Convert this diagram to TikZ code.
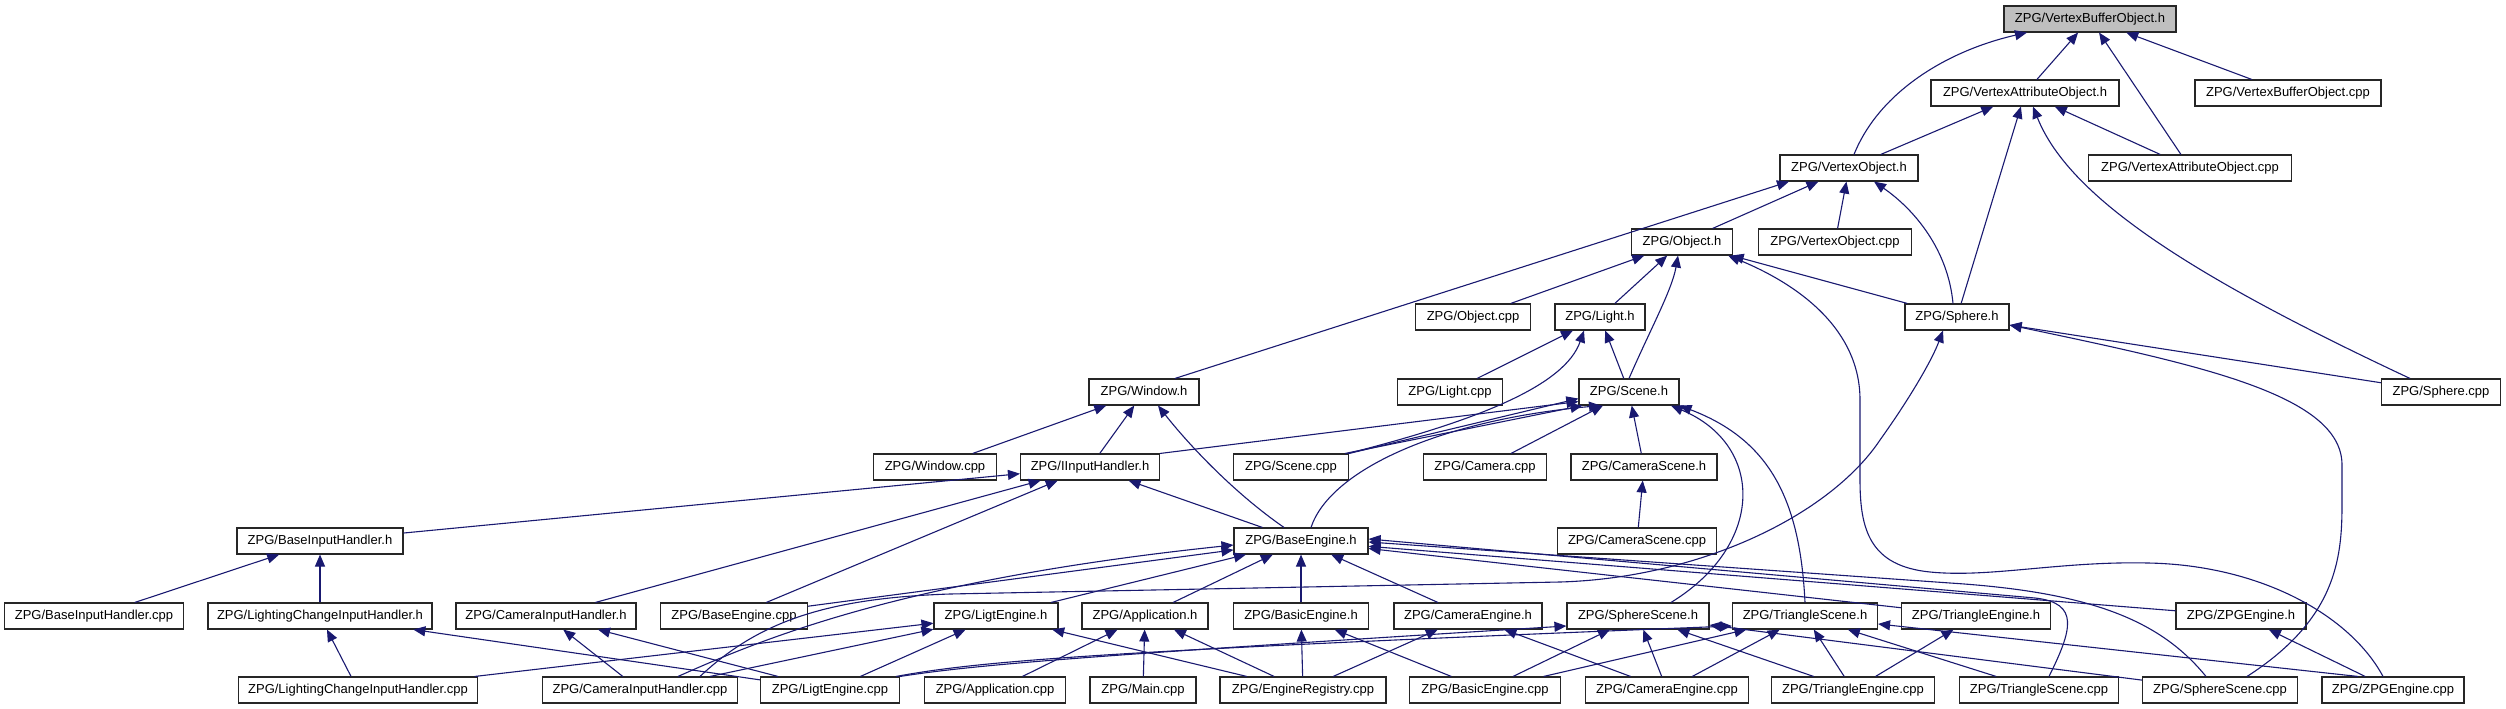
\documentclass[tikz,border=0pt]{standalone}
\usepackage{fontspec}
\setmainfont{Liberation Sans}
\usetikzlibrary{arrows.meta}
\definecolor{edgeCol}{HTML}{191970}
\definecolor{rootCol}{HTML}{BFBFBF}

\begin{document}
\begin{tikzpicture}[
    x=1pt, y=-1pt,
    >={Triangle[length=12pt,width=10pt]},
    font=\fontsize{13pt}{15pt}\selectfont,
    file/.style={draw=black!85, line width=1.1pt, fill=white, minimum height=26pt,
      inner sep=0pt, text height=9.5pt, text depth=2.5pt},
    root/.style={file, fill=rootCol},
    dep/.style={->, line width=1.1pt, color=edgeCol},
  ]
\useasboundingbox (0,0) rectangle (2506,709);

% Rank 0-3
\node[root, minimum width=172pt] (vboh) at (2090,19) {ZPG/VertexBufferObject.h};
\node[file, minimum width=188pt] (vaoh) at (2025,93) {ZPG/VertexAttributeObject.h};
\node[file, minimum width=186pt] (vbocpp) at (2288,93) {ZPG/VertexBufferObject.cpp};
\node[file, minimum width=138pt] (voh) at (1849,168) {ZPG/VertexObject.h};
\node[file, minimum width=203pt] (vaocpp) at (2190,168) {ZPG/VertexAttributeObject.cpp};
\node[file, minimum width=101pt] (objh) at (1682,242) {ZPG/Object.h};
\node[file, minimum width=153pt] (vocpp) at (1835,242) {ZPG/VertexObject.cpp};

% Rank 4-6
\node[file, minimum width=115pt] (objcpp) at (1473,317) {ZPG/Object.cpp};
\node[file, minimum width=90pt] (lighth) at (1600,317) {ZPG/Light.h};
\node[file, minimum width=104pt] (sphereh) at (1957,317) {ZPG/Sphere.h};
\node[file, minimum width=110pt] (windowh) at (1144,392) {ZPG/Window.h};
\node[file, minimum width=105pt] (lightcpp) at (1450,392) {ZPG/Light.cpp};
\node[file, minimum width=100pt] (sceneh) at (1629,392) {ZPG/Scene.h};
\node[file, minimum width=119pt] (spherecpp) at (2441,392) {ZPG/Sphere.cpp};
\node[file, minimum width=123pt] (windowcpp) at (935,467) {ZPG/Window.cpp};
\node[file, minimum width=139pt] (iinputh) at (1090,467) {ZPG/IInputHandler.h};
\node[file, minimum width=115pt] (scenecpp) at (1291,467) {ZPG/Scene.cpp};
\node[file, minimum width=123pt] (cameracpp) at (1485,467) {ZPG/Camera.cpp};
\node[file, minimum width=146pt] (camerasceneh) at (1644,467) {ZPG/CameraScene.h};

% Rank 7
\node[file, minimum width=166pt] (baseinputh) at (320,541) {ZPG/BaseInputHandler.h};
\node[file, minimum width=134pt] (baseengineh) at (1301,541) {ZPG/BaseEngine.h};
\node[file, minimum width=159pt] (camerascenecpp) at (1637,541) {ZPG/CameraScene.cpp};

% Rank 8
\node[file, minimum width=179pt] (baseinputcpp) at (94,616) {ZPG/BaseInputHandler.cpp};
\node[file, minimum width=224pt] (lcihh) at (320,616) {ZPG/LightingChangeInputHandler.h};
\node[file, minimum width=180pt] (cihh) at (546,616) {ZPG/CameraInputHandler.h};
\node[file, minimum width=147pt] (baseenginecpp) at (734,616) {ZPG/BaseEngine.cpp};
\node[file, minimum width=124pt] (ligtengineh) at (996,616) {ZPG/LigtEngine.h};
\node[file, minimum width=126pt] (applicationh) at (1145,616) {ZPG/Application.h};
\node[file, minimum width=135pt] (basicengineh) at (1301,616) {ZPG/BasicEngine.h};
\node[file, minimum width=148pt] (cameraengineh) at (1468,616) {ZPG/CameraEngine.h};
\node[file, minimum width=142pt] (spherescenesh) at (1638,616) {ZPG/SphereScene.h};
\node[file, minimum width=145pt] (trianglesceneh) at (1805,616) {ZPG/TriangleScene.h};
\node[file, minimum width=149pt] (triangleengineh) at (1976,616) {ZPG/TriangleEngine.h};
\node[file, minimum width=130pt] (zpgengineh) at (2241,616) {ZPG/ZPGEngine.h};

% Rank 9
\node[file, minimum width=239pt] (lcihcpp) at (358,690) {ZPG/LightingChangeInputHandler.cpp};
\node[file, minimum width=195pt] (cihcpp) at (640,690) {ZPG/CameraInputHandler.cpp};
\node[file, minimum width=139pt] (ligtenginecpp) at (830,690) {ZPG/LigtEngine.cpp};
\node[file, minimum width=141pt] (applicationcpp) at (995,690) {ZPG/Application.cpp};
\node[file, minimum width=106pt] (maincpp) at (1143,690) {ZPG/Main.cpp};
\node[file, minimum width=166pt] (engineregistrycpp) at (1303,690) {ZPG/EngineRegistry.cpp};
\node[file, minimum width=151pt] (basicenginecpp) at (1485,690) {ZPG/BasicEngine.cpp};
\node[file, minimum width=163pt] (cameraenginecpp) at (1667,690) {ZPG/CameraEngine.cpp};
\node[file, minimum width=163pt] (triangleenginecpp) at (1853,690) {ZPG/TriangleEngine.cpp};
\node[file, minimum width=159pt] (trianglescenecpp) at (2039,690) {ZPG/TriangleScene.cpp};
\node[file, minimum width=155pt] (spherescenecpp) at (2220,690) {ZPG/SphereScene.cpp};
\node[file, minimum width=142pt] (zpgenginecpp) at (2393,690) {ZPG/ZPGEngine.cpp};

% Buffer / attribute / vertex objects
\draw[dep] ([xshift=5pt]voh.north) .. controls (1880,90) and (1950,50) .. ([xshift=-63pt]vboh.south);
\draw[dep] (vaoh) -- (vboh);
\draw[dep] (vaocpp) -- (vboh);
\draw[dep] (vbocpp) -- (vboh);
\draw[dep] (voh) -- (vaoh);
\draw[dep] (sphereh) -- (vaoh);
\draw[dep] ([xshift=-31pt]spherecpp.north) .. controls (2200,280) and (2070,200) .. ([xshift=8pt]vaoh.south);
\draw[dep] (vaocpp) -- (vaoh);
\draw[dep] ([xshift=31pt]windowh.north) -- ([xshift=-60pt]voh.south);
\draw[dep] (objh) -- (voh);
\draw[dep] (vocpp) -- (voh);
\draw[dep] ([xshift=-4pt]sphereh.north) .. controls (1948,250) and (1915,210) .. ([xshift=25pt]voh.south);

% Object, Light, Window
\draw[dep] (objcpp) -- (objh);
\draw[dep] (lighth) -- (objh);
\draw[dep] (sceneh.north) .. controls (1650,330) and (1672,290) .. ([xshift=-4pt]objh.south);
\draw[dep] (sphereh) -- (objh);
\draw[dep] ([xshift=-10pt]zpgenginecpp.north) .. controls (2350,615) and (2260,565) .. (2148,563)
  .. controls (2060,561) and (1990,578) .. (1930,572)
  .. controls (1870,566) and (1860,530) .. (1860,480) -- (1860,400)
  .. controls (1860,330) and (1800,285) .. ([xshift=-5pt]objh.south east);
\draw[dep] (lightcpp) -- (lighth);
\draw[dep] ([xshift=57pt]scenecpp.north) .. controls (1480,420) and (1565,385) .. ([xshift=-16pt]lighth.south);
\draw[dep] (sceneh) -- (lighth);
\draw[dep] (windowcpp) -- (windowh);
\draw[dep] (iinputh) -- (windowh);
\draw[dep] ([xshift=-17pt]baseengineh.north) .. controls (1230,490) and (1185,440) .. ([xshift=14pt]windowh.south);

% Scene
\draw[dep] (iinputh.north east) -- ([yshift=4pt]sceneh.south west);
\draw[dep] (scenecpp.north east) -- ([yshift=7pt]sceneh.south west);
\draw[dep] ([xshift=-4pt]scenecpp.north east) -- ([xshift=4pt]sceneh.south west);
\draw[dep] ([xshift=10pt]baseengineh.north) .. controls (1330,470) and (1440,420) .. ([xshift=-28pt]sceneh.south);
\draw[dep] (cameracpp) -- (sceneh);
\draw[dep] (camerasceneh) -- (sceneh);
\draw[dep] (camerascenecpp) -- (camerasceneh);
\draw[dep] ([xshift=33pt]spherescenesh.north) .. controls (1765,545) and (1765,445) .. ([xshift=42pt]sceneh.south);
\draw[dep] (trianglesceneh.north) .. controls (1800,500) and (1770,440) .. (sceneh.south east);

% Input handlers
\draw[dep] (baseinputh) -- (iinputh);
\draw[dep] (cihh) -- (iinputh);
\draw[dep] (baseenginecpp) -- (iinputh);
\draw[dep] (baseengineh) -- (iinputh);
\draw[dep] (baseinputcpp) -- (baseinputh);
\draw[dep] (lcihh) -- (baseinputh);
\draw[dep] (lcihcpp) -- (lcihh);
\draw[dep] (ligtenginecpp) -- (lcihh);
\draw[dep] (cihcpp) -- (cihh);
\draw[dep] (ligtenginecpp) -- (cihh);

% BaseEngine
\draw[dep] (baseenginecpp) -- (baseengineh);
\draw[dep] ([xshift=38pt]cihcpp.north) .. controls (760,640) and (900,580) .. ([yshift=-4pt]baseengineh.west);
\draw[dep] (ligtengineh) -- (baseengineh);
\draw[dep] (applicationh) -- (baseengineh);
\draw[dep] (basicengineh) -- (baseengineh);
\draw[dep] (cameraengineh) -- (baseengineh);
\draw[dep] (triangleengineh) -- (baseengineh);
\draw[dep] (zpgengineh) -- (baseengineh);
\draw[dep] ([xshift=10pt]trianglescenecpp.north) .. controls (2072,630) and (2080,603) .. (2035,598) -- ([yshift=2pt]baseengineh.east);
\draw[dep] ([xshift=-14pt]spherescenecpp.north) .. controls (2160,620) and (2090,592) .. (1950,583) -- ([yshift=-1pt]baseengineh.east);

% Engines
\draw[dep] (lcihcpp) -- (ligtengineh);
\draw[dep] ([xshift=70pt]cihcpp.north) -- (ligtengineh);
\draw[dep] (ligtenginecpp) -- (ligtengineh);
\draw[dep] (engineregistrycpp) -- (ligtengineh);
\draw[dep] (applicationcpp) -- (applicationh);
\draw[dep] (maincpp) -- (applicationh);
\draw[dep] (engineregistrycpp) -- (applicationh);
\draw[dep] (engineregistrycpp) -- (basicengineh);
\draw[dep] (basicenginecpp) -- (basicengineh);
\draw[dep] (engineregistrycpp) -- (cameraengineh);
\draw[dep] (cameraenginecpp) -- (cameraengineh);
\draw[dep] (triangleenginecpp) -- (triangleengineh);
\draw[dep] (zpgenginecpp) -- (zpgengineh);

% Sphere and triangle scenes
\draw[dep] (ligtenginecpp.north east) .. controls (980,664) and (1100,655) .. ([yshift=-10pt]spherescenesh.west);
\draw[dep] ([xshift=-4pt]ligtenginecpp.north east) .. controls (980,661) and (1100,651) .. ([yshift=-10pt]trianglesceneh.west);
\draw[dep] (basicenginecpp) -- (spherescenesh);
\draw[dep] (cameraenginecpp) -- (spherescenesh);
\draw[dep] (triangleenginecpp) -- (spherescenesh);
\draw[dep] (spherescenecpp) -- (spherescenesh);
\draw[dep] (basicenginecpp) -- (trianglesceneh);
\draw[dep] (cameraenginecpp) -- (trianglesceneh);
\draw[dep] (triangleenginecpp) -- (trianglesceneh);
\draw[dep] (trianglescenecpp) -- (trianglesceneh);
\draw[dep] ([xshift=-35pt]zpgenginecpp.north) -- (trianglesceneh);

% Sphere
\draw[dep] (spherecpp) -- (sphereh);
\draw[dep] ([xshift=27pt]spherescenecpp.north) .. controls (2335,620) and (2342,560) .. (2342,505) -- (2342,465)
  .. controls (2342,395) and (2200,365) .. ([yshift=-8pt]sphereh.east);
\draw[dep] ([xshift=60pt]cihcpp.north) .. controls (760,620) and (830,598) .. (950,594) -- (1560,582)
  .. controls (1700,578) and (1830,515) .. (1880,440)
  .. controls (1910,398) and (1932,360) .. ([xshift=-14pt]sphereh.south);

\end{tikzpicture}
\end{document}
